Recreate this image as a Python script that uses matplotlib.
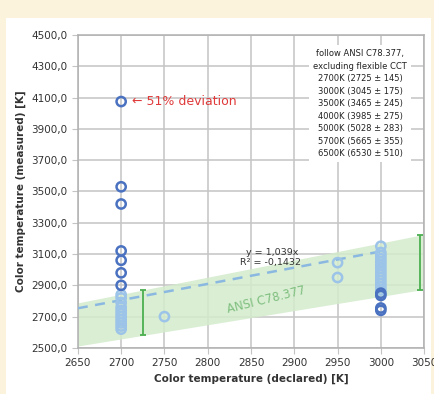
import numpy as np
import matplotlib.pyplot as plt
from matplotlib.patches import Rectangle
from matplotlib.ticker import FuncFormatter

# measured CCT per declared CCT
dark_x = [2700, 2700, 2700, 2700, 2700, 2700, 2700, 3000, 3000, 3000, 3000]
dark_y = [4075, 3530, 3420, 3120, 3060, 2980, 2900, 2850, 2835, 2755, 2740]
light_x = [2700] * 11 + [2750, 2950, 2950] + [3000] * 14
light_y = [2620, 2640, 2660, 2680, 2700, 2720, 2740, 2760, 2790, 2820, 2840,
           2700, 3045, 2950,
           2870, 2890, 2910, 2930, 2950, 2970, 2990, 3010, 3030, 3050, 3070,
           3090, 3110, 3150]

# ANSI C78.377 tolerance (nominal centre +/- tolerance)
ansi_x = [2725, 3045]
ansi_c = [2725, 3045]
ansi_tol = [145, 175]

slope = 1.039
legend_lines = ["follow ANSI C78.377,", "excluding flexible CCT",
                "2700K (2725 ± 145)", "3000K (3045 ± 175)",
                "3500K (3465 ± 245)", "4000K (3985 ± 275)",
                "5000K (5028 ± 283)", "5700K (5665 ± 355)",
                "6500K (6530 ± 510)"]

fig = plt.figure(figsize=(4.35, 3.94), dpi=100)
fig.patch.set_facecolor('#fcf3dc')
fig.patches.append(Rectangle((6 / 435, 0), 425 / 435, 1 - 18 / 394,
                             transform=fig.transFigure, facecolor='white',
                             edgecolor='none', zorder=-10))
ax = fig.add_axes([0.179, 0.117, 0.796, 0.794])
ax.set_zorder(1)
ax.set_facecolor('white')

# tolerance band, extended linearly over the x range
xs = np.array([2650, 3050])
lo = np.array(ansi_c) - np.array(ansi_tol)
hi = np.array(ansi_c) + np.array(ansi_tol)
lo_fit = np.polyfit(ansi_x, lo, 1)
hi_fit = np.polyfit(ansi_x, hi, 1)
ax.fill_between(xs, np.polyval(lo_fit, xs), np.polyval(hi_fit, xs),
                color='#d3ebcc', alpha=0.85, lw=0, zorder=1)
ax.errorbar(ansi_x, ansi_c, yerr=ansi_tol, fmt='none', ecolor='#4caf50',
            elinewidth=1.3, capsize=2.5, capthick=1.3, zorder=2)

# trend line
tx = np.array([2650, 3000])
ax.plot(tx, slope * tx, ls=(0, (4, 3)), color='#8ab8e0', lw=1.8, zorder=3)

ax.scatter(light_x, light_y, s=44, facecolors='none', edgecolors='#9cc3e8',
           linewidths=1.8, zorder=4)
ax.scatter(dark_x, dark_y, s=44, facecolors='none', edgecolors='#4a72c0',
           linewidths=1.8, zorder=5)

ax.text(2712, 4075, "← 51% deviation", color='#e03a3a', fontsize=9,
        va='center', ha='left', zorder=6)
ax.text(2874, 3107, "y = 1,039x", fontsize=6.8, color='#333333',
        ha='center', va='center', zorder=6)
ax.text(2872, 3045, "R² = -0,1432", fontsize=6.8, color='#333333',
        ha='center', va='center', zorder=6)
ax.text(2867, 2805, "ANSI C78.377", fontsize=8.5, color='#7fbf7f',
        rotation=14, ha='center', va='center', zorder=6)

ax.text(0.815, 0.955, "\n".join(legend_lines), transform=ax.transAxes,
        fontsize=6, ha='center', va='top', linespacing=1.5, color='#222222',
        bbox=dict(facecolor='white', edgecolor='none', pad=3), zorder=7)

ax.set_xlim(2650, 3050)
ax.set_ylim(2500, 4500)
ax.set_xticks(np.arange(2650, 3051, 50))
ax.set_yticks(np.arange(2500, 4501, 200))
ax.yaxis.set_major_formatter(FuncFormatter(lambda v, p: f"{v:.1f}".replace('.', ',')))
ax.grid(True, color='#c4c4c4', lw=1.1, zorder=0)
ax.set_axisbelow(True)
for s in ax.spines.values():
    s.set_color('#b0b0b0')
    s.set_linewidth(1.1)
ax.tick_params(length=4, color='#c4c4c4', labelsize=7.5, labelcolor='#333333')
ax.set_xlabel("Color temperature (declared) [K]", fontsize=7.5,
              fontweight='bold', color='#333333', labelpad=4)
ax.set_ylabel("Color temperature (measured) [K]", fontsize=7.5,
              fontweight='bold', color='#333333', labelpad=4)

fig.savefig('out.png', dpi=100, facecolor=fig.get_facecolor())
